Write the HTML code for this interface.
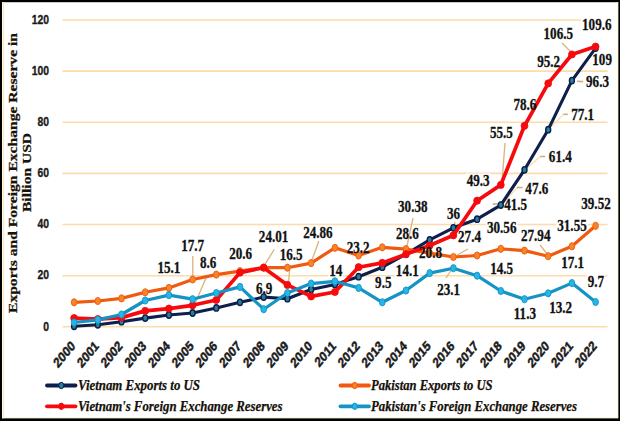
<!DOCTYPE html>
<html><head><meta charset="utf-8"><title>Exports and Foreign Exchange Reserves</title>
<style>
html,body{margin:0;padding:0;background:#000;}
body{width:620px;height:421px;overflow:hidden;position:relative;}
svg{display:block;position:absolute;left:0;top:0;}
.dl{font-family:"Liberation Serif","DejaVu Serif",serif;font-weight:bold;font-size:16.4px;fill:#111;stroke:#111;stroke-width:0.3px;}
.ax{font-family:"Liberation Sans","DejaVu Sans",sans-serif;font-weight:bold;font-size:13px;fill:#1a1a1a;stroke:#1a1a1a;stroke-width:0.35px;}
.xl{font-size:13.8px;stroke:#1a1a1a;stroke-width:0.5px;}
.yt{font-family:"Liberation Serif","DejaVu Serif",serif;font-weight:bold;font-size:13px;fill:#1a1208;stroke:#1a1208;stroke-width:0.25px;}
.lg{font-family:"Liberation Serif","DejaVu Serif",serif;font-weight:bold;font-style:italic;font-size:14.5px;fill:#151008;stroke:#151008;stroke-width:0.25px;}
</style></head><body>
<svg width="620" height="421" viewBox="0 0 620 421">
<rect x="0" y="0" width="620" height="421" fill="#000"/>
<rect x="2" y="2.2" width="616.2" height="416" fill="#fff"/>
<rect x="2" y="2.2" width="1.6" height="416" fill="#fffbe8"/><rect x="3.2" y="2.5" width="0.9" height="415.5" fill="#fbe3bd"/><rect x="2" y="417.2" width="616" height="1" fill="#fdfbe2"/>
<rect x="617" y="2.2" width="1.2" height="416" fill="#fbfbd8"/>

<line x1="62.5" x2="607.5" y1="326.8" y2="326.8" stroke="#fcdcaa" stroke-width="1.6"/>
<line x1="62.5" x2="607.5" y1="275.7" y2="275.7" stroke="#fcdcaa" stroke-width="1.6"/>
<line x1="62.5" x2="607.5" y1="224.5" y2="224.5" stroke="#fcdcaa" stroke-width="1.6"/>
<line x1="62.5" x2="607.5" y1="173.4" y2="173.4" stroke="#fcdcaa" stroke-width="1.6"/>
<line x1="62.5" x2="607.5" y1="122.2" y2="122.2" stroke="#fcdcaa" stroke-width="1.6"/>
<line x1="62.5" x2="607.5" y1="71.1" y2="71.1" stroke="#fcdcaa" stroke-width="1.6"/>
<line x1="62.5" x2="607.5" y1="20.0" y2="20.0" stroke="#fcdcaa" stroke-width="1.6"/>
<rect x="156.4" y="261.3" width="25.0" height="13" fill="#fff"/>
<rect x="180.1" y="238.6" width="25.0" height="13" fill="#fff"/>
<rect x="199.0" y="256.4" width="18.4" height="13" fill="#fff"/>
<rect x="228.1" y="247.4" width="25.0" height="13" fill="#fff"/>
<rect x="257.8" y="230.0" width="31.5" height="13" fill="#fff"/>
<rect x="278.6" y="248.2" width="25.0" height="13" fill="#fff"/>
<rect x="254.9" y="281.7" width="18.4" height="13" fill="#fff"/>
<rect x="302.1" y="225.6" width="31.5" height="13" fill="#fff"/>
<rect x="328.1" y="264.3" width="15.1" height="13" fill="#fff"/>
<rect x="345.7" y="240.7" width="25.0" height="13" fill="#fff"/>
<rect x="374.1" y="276.3" width="18.4" height="13" fill="#fff"/>
<rect x="394.8" y="264.0" width="25.0" height="13" fill="#fff"/>
<rect x="394.9" y="227.2" width="25.0" height="13" fill="#fff"/>
<rect x="397.0" y="200.4" width="31.5" height="13" fill="#fff"/>
<rect x="418.0" y="245.9" width="25.0" height="13" fill="#fff"/>
<rect x="445.9" y="207.0" width="15.1" height="13" fill="#fff"/>
<rect x="457.0" y="229.9" width="25.0" height="13" fill="#fff"/>
<rect x="436.1" y="282.5" width="25.0" height="13" fill="#fff"/>
<rect x="465.7" y="173.5" width="25.0" height="13" fill="#fff"/>
<rect x="488.9" y="125.5" width="25.0" height="13" fill="#fff"/>
<rect x="503.1" y="197.7" width="25.0" height="13" fill="#fff"/>
<rect x="524.3" y="181.7" width="25.0" height="13" fill="#fff"/>
<rect x="547.8" y="149.6" width="25.0" height="13" fill="#fff"/>
<rect x="512.4" y="98.4" width="25.0" height="13" fill="#fff"/>
<rect x="570.1" y="107.7" width="25.0" height="13" fill="#fff"/>
<rect x="536.2" y="55.2" width="25.0" height="13" fill="#fff"/>
<rect x="585.0" y="75.2" width="25.0" height="13" fill="#fff"/>
<rect x="542.5" y="27.0" width="31.5" height="13" fill="#fff"/>
<rect x="581.0" y="18.3" width="31.5" height="13" fill="#fff"/>
<rect x="591.3" y="53.0" width="21.7" height="13" fill="#fff"/>
<rect x="485.9" y="220.5" width="31.5" height="13" fill="#fff"/>
<rect x="519.9" y="228.5" width="31.5" height="13" fill="#fff"/>
<rect x="556.2" y="219.3" width="31.5" height="13" fill="#fff"/>
<rect x="580.2" y="197.4" width="31.5" height="13" fill="#fff"/>
<rect x="489.2" y="262.2" width="25.0" height="13" fill="#fff"/>
<rect x="560.1" y="255.7" width="25.0" height="13" fill="#fff"/>
<rect x="586.7" y="274.9" width="18.4" height="13" fill="#fff"/>
<rect x="512.4" y="306.9" width="25.0" height="13" fill="#fff"/>
<rect x="548.2" y="300.8" width="25.0" height="13" fill="#fff"/>
<text transform="translate(49,330.5) scale(0.8,1)" text-anchor="end" class="ax">0</text>
<text transform="translate(49,279.4) scale(0.8,1)" text-anchor="end" class="ax">20</text>
<text transform="translate(49,228.2) scale(0.8,1)" text-anchor="end" class="ax">40</text>
<text transform="translate(49,177.1) scale(0.8,1)" text-anchor="end" class="ax">60</text>
<text transform="translate(49,125.9) scale(0.8,1)" text-anchor="end" class="ax">80</text>
<text transform="translate(49,74.8) scale(0.8,1)" text-anchor="end" class="ax">100</text>
<text transform="translate(49,23.7) scale(0.8,1)" text-anchor="end" class="ax">120</text>
<text transform="translate(73.3,343.6) scale(0.82,1) rotate(-45)" text-anchor="end" class="ax xl" dy="4.4">2000</text>
<text transform="translate(97.0,343.6) scale(0.82,1) rotate(-45)" text-anchor="end" class="ax xl" dy="4.4">2001</text>
<text transform="translate(120.7,343.6) scale(0.82,1) rotate(-45)" text-anchor="end" class="ax xl" dy="4.4">2002</text>
<text transform="translate(144.4,343.6) scale(0.82,1) rotate(-45)" text-anchor="end" class="ax xl" dy="4.4">2003</text>
<text transform="translate(168.1,343.6) scale(0.82,1) rotate(-45)" text-anchor="end" class="ax xl" dy="4.4">2004</text>
<text transform="translate(191.8,343.6) scale(0.82,1) rotate(-45)" text-anchor="end" class="ax xl" dy="4.4">2005</text>
<text transform="translate(215.5,343.6) scale(0.82,1) rotate(-45)" text-anchor="end" class="ax xl" dy="4.4">2006</text>
<text transform="translate(239.2,343.6) scale(0.82,1) rotate(-45)" text-anchor="end" class="ax xl" dy="4.4">2007</text>
<text transform="translate(262.9,343.6) scale(0.82,1) rotate(-45)" text-anchor="end" class="ax xl" dy="4.4">2008</text>
<text transform="translate(286.6,343.6) scale(0.82,1) rotate(-45)" text-anchor="end" class="ax xl" dy="4.4">2009</text>
<text transform="translate(310.3,343.6) scale(0.82,1) rotate(-45)" text-anchor="end" class="ax xl" dy="4.4">2010</text>
<text transform="translate(334.1,343.6) scale(0.82,1) rotate(-45)" text-anchor="end" class="ax xl" dy="4.4">2011</text>
<text transform="translate(357.8,343.6) scale(0.82,1) rotate(-45)" text-anchor="end" class="ax xl" dy="4.4">2012</text>
<text transform="translate(381.5,343.6) scale(0.82,1) rotate(-45)" text-anchor="end" class="ax xl" dy="4.4">2013</text>
<text transform="translate(405.2,343.6) scale(0.82,1) rotate(-45)" text-anchor="end" class="ax xl" dy="4.4">2014</text>
<text transform="translate(428.9,343.6) scale(0.82,1) rotate(-45)" text-anchor="end" class="ax xl" dy="4.4">2015</text>
<text transform="translate(452.6,343.6) scale(0.82,1) rotate(-45)" text-anchor="end" class="ax xl" dy="4.4">2016</text>
<text transform="translate(476.3,343.6) scale(0.82,1) rotate(-45)" text-anchor="end" class="ax xl" dy="4.4">2017</text>
<text transform="translate(500.0,343.6) scale(0.82,1) rotate(-45)" text-anchor="end" class="ax xl" dy="4.4">2018</text>
<text transform="translate(523.7,343.6) scale(0.82,1) rotate(-45)" text-anchor="end" class="ax xl" dy="4.4">2019</text>
<text transform="translate(547.4,343.6) scale(0.82,1) rotate(-45)" text-anchor="end" class="ax xl" dy="4.4">2020</text>
<text transform="translate(571.1,343.6) scale(0.82,1) rotate(-45)" text-anchor="end" class="ax xl" dy="4.4">2021</text>
<text transform="translate(594.8,343.6) scale(0.82,1) rotate(-45)" text-anchor="end" class="ax xl" dy="4.4">2022</text>
<text transform="translate(17.2,173) rotate(-90)" text-anchor="middle" class="yt" textLength="280" lengthAdjust="spacingAndGlyphs">Exports and Foreign Exchange Reserve in</text>
<text transform="translate(30.8,172.5) rotate(-90)" text-anchor="middle" class="yt" textLength="79" lengthAdjust="spacingAndGlyphs">Billion USD</text>
<line x1="192.8" y1="256" x2="192.8" y2="280" stroke="#dcb27a" stroke-width="1.3"/>
<line x1="207.1" y1="275.3" x2="195.3" y2="303" stroke="#dcb27a" stroke-width="1.3"/>
<line x1="274.2" y1="249.5" x2="265.2" y2="264" stroke="#dcb27a" stroke-width="1.3"/>
<line x1="289.8" y1="265" x2="288.6" y2="283" stroke="#dcb27a" stroke-width="1.3"/>
<line x1="318.8" y1="241" x2="312" y2="260" stroke="#dcb27a" stroke-width="1.3"/>
<line x1="413" y1="218" x2="407" y2="246" stroke="#dcb27a" stroke-width="1.3"/>
<line x1="455" y1="222" x2="454" y2="226" stroke="#dcb27a" stroke-width="1.3"/>
<line x1="505" y1="143" x2="502" y2="182" stroke="#dcb27a" stroke-width="1.3"/>
<line x1="562" y1="43" x2="571" y2="52" stroke="#dcb27a" stroke-width="1.3"/>
<line x1="536" y1="107" x2="528" y2="122" stroke="#dcb27a" stroke-width="1.3"/>
<line x1="540" y1="245" x2="548" y2="255" stroke="#dcb27a" stroke-width="1.3"/>
<line x1="468" y1="249" x2="457" y2="255" stroke="#dcb27a" stroke-width="1.3"/>
<line x1="446" y1="278" x2="452" y2="269" stroke="#dcb27a" stroke-width="1.3"/>
<line x1="563.3" y1="114.3" x2="550" y2="128" stroke="#fbdcb0" stroke-width="1.2"/>
<line x1="540.2" y1="156.5" x2="526" y2="169" stroke="#fbdcb0" stroke-width="1.2"/>
<line x1="517" y1="187.5" x2="503.5" y2="203" stroke="#fbdcb0" stroke-width="1.2"/>
<line x1="563.3" y1="114.3" x2="567.8" y2="114.3" stroke="#c9b088" stroke-width="1.6"/>
<line x1="540.2" y1="156.5" x2="545" y2="156.5" stroke="#c9b088" stroke-width="1.6"/>
<line x1="517" y1="187.5" x2="522.6" y2="187.5" stroke="#c9b088" stroke-width="1.6"/>
<line x1="492.8" y1="204" x2="499.2" y2="204" stroke="#c9b088" stroke-width="1.6"/>
<line x1="577" y1="81.2" x2="583" y2="81.6" stroke="#c9b088" stroke-width="1.6"/>
<polyline points="74.1,326.3 97.8,324.8 121.5,321.7 145.2,318.1 168.9,315.0 192.6,313.0 216.3,307.9 240.0,302.3 263.7,297.1 287.4,298.7 311.1,289.5 334.9,284.4 358.6,276.7 382.3,267.2 406.0,254.2 429.7,239.9 453.4,227.8 477.1,219.2 500.8,205.1 524.5,169.8 548.2,129.7 571.9,80.6 595.6,48.1" fill="none" stroke="#0d1f4a" stroke-width="3.1" stroke-linejoin="round" stroke-linecap="round"/>
<ellipse cx="74.1" cy="326.3" rx="2.50" ry="3.2" fill="#257f9c" stroke="#0d1f4a" stroke-width="1.4"/><ellipse cx="97.8" cy="324.8" rx="2.50" ry="3.2" fill="#257f9c" stroke="#0d1f4a" stroke-width="1.4"/><ellipse cx="121.5" cy="321.7" rx="2.50" ry="3.2" fill="#257f9c" stroke="#0d1f4a" stroke-width="1.4"/><ellipse cx="145.2" cy="318.1" rx="2.50" ry="3.2" fill="#257f9c" stroke="#0d1f4a" stroke-width="1.4"/><ellipse cx="168.9" cy="315.0" rx="2.50" ry="3.2" fill="#257f9c" stroke="#0d1f4a" stroke-width="1.4"/><ellipse cx="192.6" cy="313.0" rx="2.50" ry="3.2" fill="#257f9c" stroke="#0d1f4a" stroke-width="1.4"/><ellipse cx="216.3" cy="307.9" rx="2.50" ry="3.2" fill="#257f9c" stroke="#0d1f4a" stroke-width="1.4"/><ellipse cx="240.0" cy="302.3" rx="2.50" ry="3.2" fill="#257f9c" stroke="#0d1f4a" stroke-width="1.4"/><ellipse cx="263.7" cy="297.1" rx="2.50" ry="3.2" fill="#257f9c" stroke="#0d1f4a" stroke-width="1.4"/><ellipse cx="287.4" cy="298.7" rx="2.50" ry="3.2" fill="#257f9c" stroke="#0d1f4a" stroke-width="1.4"/><ellipse cx="311.1" cy="289.5" rx="2.50" ry="3.2" fill="#257f9c" stroke="#0d1f4a" stroke-width="1.4"/><ellipse cx="334.9" cy="284.4" rx="2.50" ry="3.2" fill="#257f9c" stroke="#0d1f4a" stroke-width="1.4"/><ellipse cx="358.6" cy="276.7" rx="2.50" ry="3.2" fill="#257f9c" stroke="#0d1f4a" stroke-width="1.4"/><ellipse cx="382.3" cy="267.2" rx="2.50" ry="3.2" fill="#257f9c" stroke="#0d1f4a" stroke-width="1.4"/><ellipse cx="406.0" cy="254.2" rx="2.50" ry="3.2" fill="#257f9c" stroke="#0d1f4a" stroke-width="1.4"/><ellipse cx="429.7" cy="239.9" rx="2.50" ry="3.2" fill="#257f9c" stroke="#0d1f4a" stroke-width="1.4"/><ellipse cx="453.4" cy="227.8" rx="2.50" ry="3.2" fill="#257f9c" stroke="#0d1f4a" stroke-width="1.4"/><ellipse cx="477.1" cy="219.2" rx="2.50" ry="3.2" fill="#257f9c" stroke="#0d1f4a" stroke-width="1.4"/><ellipse cx="500.8" cy="205.1" rx="2.50" ry="3.2" fill="#257f9c" stroke="#0d1f4a" stroke-width="1.4"/><ellipse cx="524.5" cy="169.8" rx="2.50" ry="3.2" fill="#257f9c" stroke="#0d1f4a" stroke-width="1.4"/><ellipse cx="548.2" cy="129.7" rx="2.50" ry="3.2" fill="#257f9c" stroke="#0d1f4a" stroke-width="1.4"/><ellipse cx="571.9" cy="80.6" rx="2.50" ry="3.2" fill="#257f9c" stroke="#0d1f4a" stroke-width="1.4"/><ellipse cx="595.6" cy="48.1" rx="2.50" ry="3.2" fill="#257f9c" stroke="#0d1f4a" stroke-width="1.4"/>
<polyline points="74.1,302.3 97.8,301.0 121.5,298.4 145.2,292.3 168.9,287.9 192.6,279.5 216.3,274.6 240.0,271.1 263.7,267.5 287.4,267.7 311.1,263.1 334.9,247.8 358.6,255.5 382.3,247.3 406.0,249.1 429.7,253.2 453.4,257.0 477.1,255.5 500.8,248.8 524.5,250.6 548.2,256.2 571.9,246.3 595.6,225.8" fill="none" stroke="#f05a10" stroke-width="3.2" stroke-linejoin="round" stroke-linecap="round"/>
<ellipse cx="74.1" cy="302.3" rx="2.81" ry="3.6" fill="#f68428" stroke="#f05a10" stroke-width="0.9"/><ellipse cx="97.8" cy="301.0" rx="2.81" ry="3.6" fill="#f68428" stroke="#f05a10" stroke-width="0.9"/><ellipse cx="121.5" cy="298.4" rx="2.81" ry="3.6" fill="#f68428" stroke="#f05a10" stroke-width="0.9"/><ellipse cx="145.2" cy="292.3" rx="2.81" ry="3.6" fill="#f68428" stroke="#f05a10" stroke-width="0.9"/><ellipse cx="168.9" cy="287.9" rx="2.81" ry="3.6" fill="#f68428" stroke="#f05a10" stroke-width="0.9"/><ellipse cx="192.6" cy="279.5" rx="2.81" ry="3.6" fill="#f68428" stroke="#f05a10" stroke-width="0.9"/><ellipse cx="216.3" cy="274.6" rx="2.81" ry="3.6" fill="#f68428" stroke="#f05a10" stroke-width="0.9"/><ellipse cx="240.0" cy="271.1" rx="2.81" ry="3.6" fill="#f68428" stroke="#f05a10" stroke-width="0.9"/><ellipse cx="263.7" cy="267.5" rx="2.81" ry="3.6" fill="#f68428" stroke="#f05a10" stroke-width="0.9"/><ellipse cx="287.4" cy="267.7" rx="2.81" ry="3.6" fill="#f68428" stroke="#f05a10" stroke-width="0.9"/><ellipse cx="311.1" cy="263.1" rx="2.81" ry="3.6" fill="#f68428" stroke="#f05a10" stroke-width="0.9"/><ellipse cx="334.9" cy="247.8" rx="2.81" ry="3.6" fill="#f68428" stroke="#f05a10" stroke-width="0.9"/><ellipse cx="358.6" cy="255.5" rx="2.81" ry="3.6" fill="#f68428" stroke="#f05a10" stroke-width="0.9"/><ellipse cx="382.3" cy="247.3" rx="2.81" ry="3.6" fill="#f68428" stroke="#f05a10" stroke-width="0.9"/><ellipse cx="406.0" cy="249.1" rx="2.81" ry="3.6" fill="#f68428" stroke="#f05a10" stroke-width="0.9"/><ellipse cx="429.7" cy="253.2" rx="2.81" ry="3.6" fill="#f68428" stroke="#f05a10" stroke-width="0.9"/><ellipse cx="453.4" cy="257.0" rx="2.81" ry="3.6" fill="#f68428" stroke="#f05a10" stroke-width="0.9"/><ellipse cx="477.1" cy="255.5" rx="2.81" ry="3.6" fill="#f68428" stroke="#f05a10" stroke-width="0.9"/><ellipse cx="500.8" cy="248.8" rx="2.81" ry="3.6" fill="#f68428" stroke="#f05a10" stroke-width="0.9"/><ellipse cx="524.5" cy="250.6" rx="2.81" ry="3.6" fill="#f68428" stroke="#f05a10" stroke-width="0.9"/><ellipse cx="548.2" cy="256.2" rx="2.81" ry="3.6" fill="#f68428" stroke="#f05a10" stroke-width="0.9"/><ellipse cx="571.9" cy="246.3" rx="2.81" ry="3.6" fill="#f68428" stroke="#f05a10" stroke-width="0.9"/><ellipse cx="595.6" cy="225.8" rx="2.81" ry="3.6" fill="#f68428" stroke="#f05a10" stroke-width="0.9"/>
<polyline points="74.1,318.1 97.8,319.1 121.5,317.6 145.2,310.9 168.9,308.6 192.6,305.3 216.3,300.0 240.0,272.6 263.7,267.7 287.4,284.9 311.1,296.4 334.9,292.0 358.6,267.2 382.3,262.9 406.0,254.2 429.7,245.5 453.4,235.3 477.1,200.7 500.8,184.9 524.5,125.8 548.2,83.4 571.9,54.5 595.6,46.6" fill="none" stroke="#f60a0e" stroke-width="3.7" stroke-linejoin="round" stroke-linecap="round"/>
<ellipse cx="74.1" cy="318.1" rx="3.42" ry="3.6" fill="#f60a0e" stroke="#f60a0e" stroke-width="0.8"/><ellipse cx="97.8" cy="319.1" rx="3.42" ry="3.6" fill="#f60a0e" stroke="#f60a0e" stroke-width="0.8"/><ellipse cx="121.5" cy="317.6" rx="3.42" ry="3.6" fill="#f60a0e" stroke="#f60a0e" stroke-width="0.8"/><ellipse cx="145.2" cy="310.9" rx="3.42" ry="3.6" fill="#f60a0e" stroke="#f60a0e" stroke-width="0.8"/><ellipse cx="168.9" cy="308.6" rx="3.42" ry="3.6" fill="#f60a0e" stroke="#f60a0e" stroke-width="0.8"/><ellipse cx="192.6" cy="305.3" rx="3.42" ry="3.6" fill="#f60a0e" stroke="#f60a0e" stroke-width="0.8"/><ellipse cx="216.3" cy="300.0" rx="3.42" ry="3.6" fill="#f60a0e" stroke="#f60a0e" stroke-width="0.8"/><ellipse cx="240.0" cy="272.6" rx="3.42" ry="3.6" fill="#f60a0e" stroke="#f60a0e" stroke-width="0.8"/><ellipse cx="263.7" cy="267.7" rx="3.42" ry="3.6" fill="#f60a0e" stroke="#f60a0e" stroke-width="0.8"/><ellipse cx="287.4" cy="284.9" rx="3.42" ry="3.6" fill="#f60a0e" stroke="#f60a0e" stroke-width="0.8"/><ellipse cx="311.1" cy="296.4" rx="3.42" ry="3.6" fill="#f60a0e" stroke="#f60a0e" stroke-width="0.8"/><ellipse cx="334.9" cy="292.0" rx="3.42" ry="3.6" fill="#f60a0e" stroke="#f60a0e" stroke-width="0.8"/><ellipse cx="358.6" cy="267.2" rx="3.42" ry="3.6" fill="#f60a0e" stroke="#f60a0e" stroke-width="0.8"/><ellipse cx="382.3" cy="262.9" rx="3.42" ry="3.6" fill="#f60a0e" stroke="#f60a0e" stroke-width="0.8"/><ellipse cx="406.0" cy="254.2" rx="3.42" ry="3.6" fill="#f60a0e" stroke="#f60a0e" stroke-width="0.8"/><ellipse cx="429.7" cy="245.5" rx="3.42" ry="3.6" fill="#f60a0e" stroke="#f60a0e" stroke-width="0.8"/><ellipse cx="453.4" cy="235.3" rx="3.42" ry="3.6" fill="#f60a0e" stroke="#f60a0e" stroke-width="0.8"/><ellipse cx="477.1" cy="200.7" rx="3.42" ry="3.6" fill="#f60a0e" stroke="#f60a0e" stroke-width="0.8"/><ellipse cx="500.8" cy="184.9" rx="3.42" ry="3.6" fill="#f60a0e" stroke="#f60a0e" stroke-width="0.8"/><ellipse cx="524.5" cy="125.8" rx="3.42" ry="3.6" fill="#f60a0e" stroke="#f60a0e" stroke-width="0.8"/><ellipse cx="548.2" cy="83.4" rx="3.42" ry="3.6" fill="#f60a0e" stroke="#f60a0e" stroke-width="0.8"/><ellipse cx="571.9" cy="54.5" rx="3.42" ry="3.6" fill="#f60a0e" stroke="#f60a0e" stroke-width="0.8"/><ellipse cx="595.6" cy="46.6" rx="3.42" ry="3.6" fill="#f60a0e" stroke="#f60a0e" stroke-width="0.8"/>
<polyline points="74.1,322.5 97.8,319.9 121.5,314.5 145.2,300.5 168.9,295.1 192.6,299.2 216.3,293.0 240.0,286.9 263.7,309.2 287.4,293.0 311.1,283.6 334.9,281.3 358.6,287.9 382.3,302.3 406.0,290.5 429.7,273.1 453.4,268.2 477.1,275.7 500.8,291.0 524.5,299.2 548.2,293.3 571.9,283.1 595.6,302.0" fill="none" stroke="#1493c4" stroke-width="3.2" stroke-linejoin="round" stroke-linecap="round"/>
<ellipse cx="74.1" cy="322.5" rx="2.81" ry="3.6" fill="#25b6e8" stroke="#1493c4" stroke-width="0.9"/><ellipse cx="97.8" cy="319.9" rx="2.81" ry="3.6" fill="#25b6e8" stroke="#1493c4" stroke-width="0.9"/><ellipse cx="121.5" cy="314.5" rx="2.81" ry="3.6" fill="#25b6e8" stroke="#1493c4" stroke-width="0.9"/><ellipse cx="145.2" cy="300.5" rx="2.81" ry="3.6" fill="#25b6e8" stroke="#1493c4" stroke-width="0.9"/><ellipse cx="168.9" cy="295.1" rx="2.81" ry="3.6" fill="#25b6e8" stroke="#1493c4" stroke-width="0.9"/><ellipse cx="192.6" cy="299.2" rx="2.81" ry="3.6" fill="#25b6e8" stroke="#1493c4" stroke-width="0.9"/><ellipse cx="216.3" cy="293.0" rx="2.81" ry="3.6" fill="#25b6e8" stroke="#1493c4" stroke-width="0.9"/><ellipse cx="240.0" cy="286.9" rx="2.81" ry="3.6" fill="#25b6e8" stroke="#1493c4" stroke-width="0.9"/><ellipse cx="263.7" cy="309.2" rx="2.81" ry="3.6" fill="#25b6e8" stroke="#1493c4" stroke-width="0.9"/><ellipse cx="287.4" cy="293.0" rx="2.81" ry="3.6" fill="#25b6e8" stroke="#1493c4" stroke-width="0.9"/><ellipse cx="311.1" cy="283.6" rx="2.81" ry="3.6" fill="#25b6e8" stroke="#1493c4" stroke-width="0.9"/><ellipse cx="334.9" cy="281.3" rx="2.81" ry="3.6" fill="#25b6e8" stroke="#1493c4" stroke-width="0.9"/><ellipse cx="358.6" cy="287.9" rx="2.81" ry="3.6" fill="#25b6e8" stroke="#1493c4" stroke-width="0.9"/><ellipse cx="382.3" cy="302.3" rx="2.81" ry="3.6" fill="#25b6e8" stroke="#1493c4" stroke-width="0.9"/><ellipse cx="406.0" cy="290.5" rx="2.81" ry="3.6" fill="#25b6e8" stroke="#1493c4" stroke-width="0.9"/><ellipse cx="429.7" cy="273.1" rx="2.81" ry="3.6" fill="#25b6e8" stroke="#1493c4" stroke-width="0.9"/><ellipse cx="453.4" cy="268.2" rx="2.81" ry="3.6" fill="#25b6e8" stroke="#1493c4" stroke-width="0.9"/><ellipse cx="477.1" cy="275.7" rx="2.81" ry="3.6" fill="#25b6e8" stroke="#1493c4" stroke-width="0.9"/><ellipse cx="500.8" cy="291.0" rx="2.81" ry="3.6" fill="#25b6e8" stroke="#1493c4" stroke-width="0.9"/><ellipse cx="524.5" cy="299.2" rx="2.81" ry="3.6" fill="#25b6e8" stroke="#1493c4" stroke-width="0.9"/><ellipse cx="548.2" cy="293.3" rx="2.81" ry="3.6" fill="#25b6e8" stroke="#1493c4" stroke-width="0.9"/><ellipse cx="571.9" cy="283.1" rx="2.81" ry="3.6" fill="#25b6e8" stroke="#1493c4" stroke-width="0.9"/><ellipse cx="595.6" cy="302.0" rx="2.81" ry="3.6" fill="#25b6e8" stroke="#1493c4" stroke-width="0.9"/>
<text transform="translate(168.9,273.3) scale(0.8,1)" text-anchor="middle" class="dl">15.1</text>
<text transform="translate(192.6,250.6) scale(0.8,1)" text-anchor="middle" class="dl">17.7</text>
<text transform="translate(208.2,268.4) scale(0.8,1)" text-anchor="middle" class="dl">8.6</text>
<text transform="translate(240.6,259.4) scale(0.8,1)" text-anchor="middle" class="dl">20.6</text>
<text transform="translate(273.6,242.0) scale(0.8,1)" text-anchor="middle" class="dl">24.01</text>
<text transform="translate(291.1,260.2) scale(0.8,1)" text-anchor="middle" class="dl">16.5</text>
<text transform="translate(264.1,293.7) scale(0.8,1)" text-anchor="middle" class="dl">6.9</text>
<text transform="translate(317.9,237.6) scale(0.8,1)" text-anchor="middle" class="dl">24.86</text>
<text transform="translate(335.7,276.3) scale(0.8,1)" text-anchor="middle" class="dl">14</text>
<text transform="translate(358.2,252.7) scale(0.8,1)" text-anchor="middle" class="dl">23.2</text>
<text transform="translate(383.3,288.3) scale(0.8,1)" text-anchor="middle" class="dl">9.5</text>
<text transform="translate(407.3,276.0) scale(0.8,1)" text-anchor="middle" class="dl">14.1</text>
<text transform="translate(407.4,239.2) scale(0.8,1)" text-anchor="middle" class="dl">28.6</text>
<text transform="translate(412.8,212.4) scale(0.8,1)" text-anchor="middle" class="dl">30.38</text>
<text transform="translate(430.5,257.9) scale(0.8,1)" text-anchor="middle" class="dl">20.8</text>
<text transform="translate(453.5,219.0) scale(0.8,1)" text-anchor="middle" class="dl">36</text>
<text transform="translate(469.5,241.9) scale(0.8,1)" text-anchor="middle" class="dl">27.4</text>
<text transform="translate(448.6,294.5) scale(0.8,1)" text-anchor="middle" class="dl">23.1</text>
<text transform="translate(478.2,185.5) scale(0.8,1)" text-anchor="middle" class="dl">49.3</text>
<text transform="translate(501.4,137.5) scale(0.8,1)" text-anchor="middle" class="dl">55.5</text>
<text transform="translate(515.6,209.7) scale(0.8,1)" text-anchor="middle" class="dl">41.5</text>
<text transform="translate(536.8,193.7) scale(0.8,1)" text-anchor="middle" class="dl">47.6</text>
<text transform="translate(560.3,161.6) scale(0.8,1)" text-anchor="middle" class="dl">61.4</text>
<text transform="translate(524.9,110.4) scale(0.8,1)" text-anchor="middle" class="dl">78.6</text>
<text transform="translate(582.6,119.7) scale(0.8,1)" text-anchor="middle" class="dl">77.1</text>
<text transform="translate(548.7,67.2) scale(0.8,1)" text-anchor="middle" class="dl">95.2</text>
<text transform="translate(597.5,87.2) scale(0.8,1)" text-anchor="middle" class="dl">96.3</text>
<text transform="translate(558.3,39.0) scale(0.8,1)" text-anchor="middle" class="dl">106.5</text>
<text transform="translate(596.8,30.3) scale(0.8,1)" text-anchor="middle" class="dl">109.6</text>
<text transform="translate(602.1,65.0) scale(0.8,1)" text-anchor="middle" class="dl">109</text>
<text transform="translate(501.7,232.5) scale(0.8,1)" text-anchor="middle" class="dl">30.56</text>
<text transform="translate(535.7,240.5) scale(0.8,1)" text-anchor="middle" class="dl">27.94</text>
<text transform="translate(572.0,231.3) scale(0.8,1)" text-anchor="middle" class="dl">31.55</text>
<text transform="translate(596.0,209.4) scale(0.8,1)" text-anchor="middle" class="dl">39.52</text>
<text transform="translate(501.7,274.2) scale(0.8,1)" text-anchor="middle" class="dl">14.5</text>
<text transform="translate(572.6,267.7) scale(0.8,1)" text-anchor="middle" class="dl">17.1</text>
<text transform="translate(595.9,286.9) scale(0.8,1)" text-anchor="middle" class="dl">9.7</text>
<text transform="translate(524.9,318.9) scale(0.8,1)" text-anchor="middle" class="dl">11.3</text>
<text transform="translate(560.7,312.8) scale(0.8,1)" text-anchor="middle" class="dl">13.2</text>
<line x1="47" x2="75.5" y1="385.5" y2="385.5" stroke="#0d1f4a" stroke-width="3.8" stroke-linecap="round"/><ellipse cx="61.25" cy="385.5" rx="2.5" ry="3.2" fill="#257f9c" stroke="#0d1f4a" stroke-width="1"/><text x="78" y="390.1" class="lg" textLength="122" lengthAdjust="spacingAndGlyphs">Vietnam Exports to US</text>
<line x1="47" x2="75.5" y1="406.3" y2="406.3" stroke="#f60a0e" stroke-width="3.8" stroke-linecap="round"/><ellipse cx="61.25" cy="406.3" rx="2.5" ry="3.2" fill="#f60a0e" stroke="#f60a0e" stroke-width="1"/><text x="78" y="410.90000000000003" class="lg" textLength="204.5" lengthAdjust="spacingAndGlyphs">Vietnam's Foreign Exchange Reserves</text>
<line x1="340.5" x2="369" y1="385.5" y2="385.5" stroke="#f05a10" stroke-width="3.8" stroke-linecap="round"/><ellipse cx="354.75" cy="385.5" rx="2.5" ry="3.2" fill="#f68428" stroke="#f05a10" stroke-width="1"/><text x="371" y="390.1" class="lg" textLength="121.5" lengthAdjust="spacingAndGlyphs">Pakistan Exports to US</text>
<line x1="340.5" x2="369" y1="406.3" y2="406.3" stroke="#1493c4" stroke-width="3.8" stroke-linecap="round"/><ellipse cx="354.75" cy="406.3" rx="2.5" ry="3.2" fill="#25b6e8" stroke="#1493c4" stroke-width="1"/><text x="371" y="410.90000000000003" class="lg" textLength="206" lengthAdjust="spacingAndGlyphs">Pakistan's Foreign Exchange Reserves</text>
</svg></body></html>
